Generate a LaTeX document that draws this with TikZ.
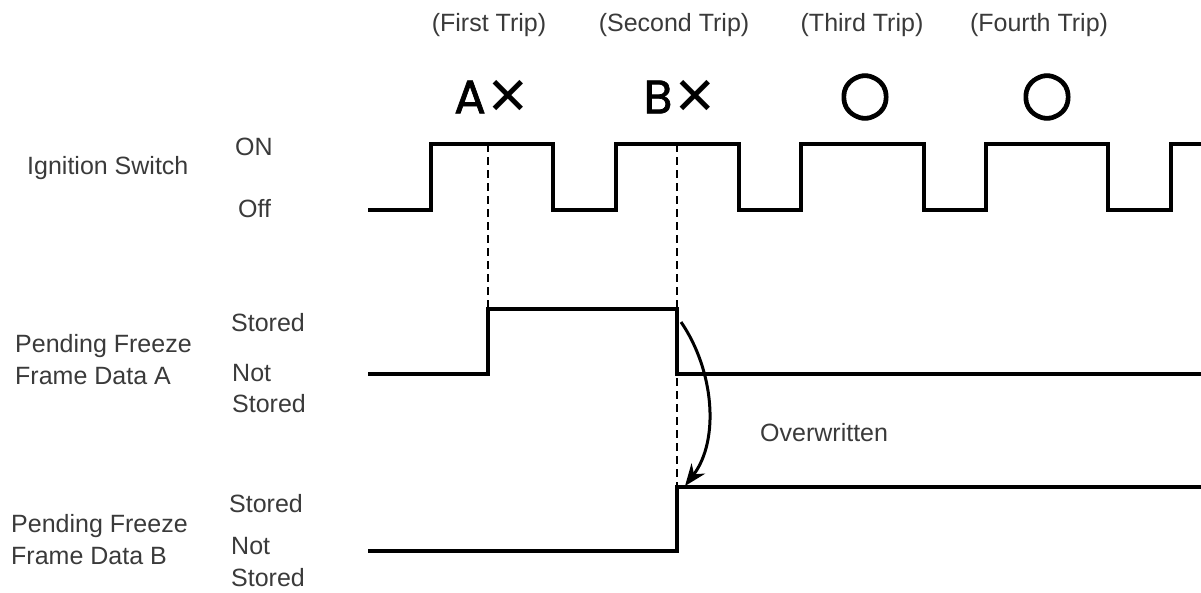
\documentclass[tikz,border=0pt]{standalone}
\usepackage{fontspec}
\setmainfont{Liberation Sans}
\newfontfamily\geofont[FakeBold=1.5]{Poppins}
\newfontfamily\symfont{DejaVu Sans}
\newfontfamily\symboldfont[FakeBold=2]{DejaVu Sans}
\usetikzlibrary{arrows.meta}
\definecolor{txt}{HTML}{3A3A3A}
\tikzset{
  lbl/.style={font=\fontsize{25}{27}\selectfont, text=txt, inner sep=0pt, anchor=base west},
  trip/.style={font=\fontsize{25}{27}\selectfont, text=txt, inner sep=0pt, anchor=base},
  big/.style={font=\geofont\fontsize{47}{49}\selectfont, inner sep=0pt, anchor=center},
  crossmk/.style={font=\symfont\fontsize{52}{54}\selectfont, inner sep=0pt, anchor=center},
  circmk/.style={font=\symboldfont\fontsize{60}{62}\selectfont, inner sep=0pt, anchor=center},
  wave/.style={line width=3.2pt, line join=miter},
  guide/.style={line width=2.2pt, dash pattern=on 8pt off 5pt},
  owarrow/.style={line width=3pt, -{Stealth[length=22pt,width=17pt]}}
}
\begin{document}
\begin{tikzpicture}[x=1pt,y=-1pt]
\useasboundingbox (0,0) rectangle (1201,592);

% trip labels
\node[trip] (t1) at (489,31) {(First Trip)};
\node[trip] (t2) at (674,31) {(Second Trip)};
\node[trip] (t3) at (862,31) {(Third Trip)};
\node[trip] (t4) at (1039,31) {(Fourth Trip)};

% result marks
\node[big] (mA) at (470,97) {A};
\node[crossmk] (xA) at (508,97) {✕};
\node[big] (mB) at (658,97) {B};
\node[crossmk] (xB) at (695,97) {✕};
\node[circmk] (o3) at (865,97) {○};
\node[circmk] (o4) at (1047,97) {○};

% row labels
\node[lbl] (ign) at (27,174) {Ignition Switch};
\node[lbl] (on) at (235,155) {ON};
\node[lbl] (off) at (238,217) {Off};

\node[lbl] (pfa1) at (15,352) {Pending Freeze};
\node[lbl] (pfa2) at (15,384) {Frame Data A};
\node[lbl] (sa) at (231,331) {Stored};
\node[lbl] (na1) at (232,381) {Not};
\node[lbl] (na2) at (232,412) {Stored};

\node[lbl] (pfb1) at (11,532) {Pending Freeze};
\node[lbl] (pfb2) at (11,564) {Frame Data B};
\node[lbl] (sb) at (229,512) {Stored};
\node[lbl] (nb1) at (231,554) {Not};
\node[lbl] (nb2) at (231,586) {Stored};

\node[lbl] (ow) at (760,441) {Overwritten};

% ignition waveform
\draw[wave] (368,210) -- (431,210) -- (431,144) -- (553,144) -- (553,210)
  -- (616,210) -- (616,144) -- (739,144) -- (739,210)
  -- (801,210) -- (801,144) -- (924,144) -- (924,210)
  -- (986,210) -- (986,144) -- (1108,144) -- (1108,210)
  -- (1171,210) -- (1171,144) -- (1202,144);

% data A waveform
\draw[wave] (368,374) -- (488,374) -- (488,309) -- (677,309) -- (677,374) -- (1202,374);

% data B waveform
\draw[wave] (368,551) -- (677,551) -- (677,487) -- (1202,487);

% guide lines
\coordinate (g1t) at (488,144);
\coordinate (g1b) at (488,309);
\coordinate (g2t) at (677,144);
\coordinate (g2b) at (677,487);
\draw[guide] (g1t) -- (g1b);
\draw[guide] (g2t) -- (g2b);

% overwrite arrow
\coordinate (as) at (681,322);
\coordinate (ae) at (685,486);
\draw[owarrow] (as) .. controls (714,370) and (720,440) .. (ae);
\end{tikzpicture}
\end{document}
